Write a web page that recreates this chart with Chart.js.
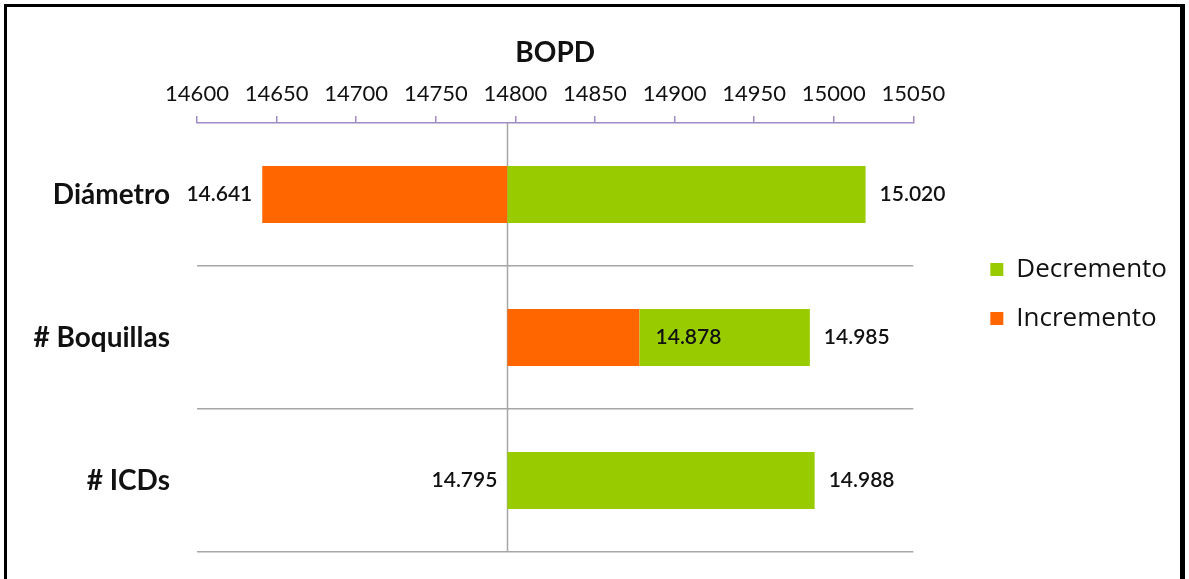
<!DOCTYPE html>
<html>
<head>
<meta charset="utf-8">
<script src="https://cdn.jsdelivr.net/npm/chart.js@4.4.0/dist/chart.umd.min.js"></script>
<style>
html,body{margin:0;padding:0;background:#fff;}
#wrap{position:relative;width:1189px;height:579px;overflow:hidden;background:#fff;}
#frame{position:absolute;left:4px;top:4px;width:1181px;height:620px;border:3px solid #000;border-right-width:5px;box-sizing:border-box;pointer-events:none;}
#c{position:absolute;left:0;top:0;}
</style>
</head>
<body>
<div id="wrap">
<canvas id="c" width="1189" height="579"></canvas>
<div id="frame"></div>
</div>
<script>
// ---- data ----
const categories = ['Diámetro', '# Boquillas', '# ICDs'];
const baseValue = 14795;
const incrementoValues = [14641, 14878, 14795];
const decrementoValues = [15020, 14985, 14988];
const xTickValues = [14600, 14650, 14700, 14750, 14800, 14850, 14900, 14950, 15000, 15050];
const axisTitle = 'BOPD';
const seriesNames = ['Decremento', 'Incremento'];

// ---- derived floating bars ----
const incrementoBars = incrementoValues.map(v => [Math.min(v, baseValue), Math.max(v, baseValue)]);
const decrementoBars = decrementoValues.map((v, i) => [Math.max(baseValue, incrementoValues[i]), v]);

const fmt = v => String(v).replace(/\B(?=(\d{3})+$)/g, '.');

const FONT = 'Lato, "Open Sans", sans-serif';

const baseLinePlugin = {
  id: 'baseLine',
  beforeDatasetsDraw(chart) {
    const {ctx, chartArea, scales} = chart;
    const x = Math.round(scales.x.getPixelForValue(baseValue)) + 0.5;
    ctx.save();
    ctx.strokeStyle = '#A6A6A6';
    ctx.lineWidth = 1.5;
    ctx.beginPath();
    ctx.moveTo(x, chartArea.top);
    ctx.lineTo(x, chartArea.bottom);
    ctx.stroke();
    ctx.restore();
  }
};

const labelPlugin = {
  id: 'barLabels',
  afterDatasetsDraw(chart) {
    const {ctx, scales} = chart;
    ctx.save();
    ctx.fillStyle = '#111';
    ctx.font = '600 21px ' + FONT;
    ctx.textBaseline = 'middle';
    categories.forEach((c, i) => {
      const y = scales.y.getPixelForValue(i);
      const inc = incrementoValues[i];
      const dec = decrementoValues[i];
      if (inc <= baseValue) {
        ctx.textAlign = 'right';
        ctx.fillText(fmt(inc), scales.x.getPixelForValue(inc) - 10, y);
      } else {
        ctx.textAlign = 'left';
        ctx.fillText(fmt(inc), scales.x.getPixelForValue(inc) + 16, y);
      }
      ctx.textAlign = 'left';
      ctx.fillText(fmt(dec), scales.x.getPixelForValue(dec) + 14, y);
    });
    ctx.restore();
  }
};

new Chart(document.getElementById('c'), {
  type: 'bar',
  data: {
    labels: categories,
    datasets: [
      {label: seriesNames[0], data: decrementoBars, backgroundColor: '#99CC00', grouped: false,
       categoryPercentage: 1, barPercentage: 0.4, borderSkipped: false},
      {label: seriesNames[1], data: incrementoBars, backgroundColor: '#FF6600', grouped: false,
       categoryPercentage: 1, barPercentage: 0.4, borderSkipped: false}
    ]
  },
  options: {
    indexAxis: 'y',
    responsive: false,
    animation: false,
    layout: {padding: {top: 36, left: 0, right: 12, bottom: 27}},
    plugins: {
      legend: {
        position: 'right',
        maxWidth: 400,
        labels: {boxWidth: 13, boxHeight: 13, padding: 23, color: '#111',
                 font: {family: '"Open Sans", sans-serif', size: 26}}
      },
      tooltip: {enabled: false}
    },
    scales: {
      x: {
        type: 'linear',
        position: 'top',
        min: 14600, max: 15050,
        afterBuildTicks(s) { s.ticks = xTickValues.map(v => ({value: v})); },
        afterFit(s) { s.height = 87; },
        ticks: {color: '#111', font: {family: FONT, size: 22}, padding: 9, callback: v => String(v), maxRotation: 0, autoSkip: false},
        grid: {drawOnChartArea: false, color: '#A08CC8', tickLength: 7, lineWidth: 1.5},
        border: {color: '#A08CC8', width: 1.5},
        title: {display: true, text: axisTitle, color: '#111', font: {family: FONT, size: 28, weight: 'bold'}, padding: {top: 0, bottom: 0}}
      },
      y: {
        type: 'category',
        afterFit(s) { s.width = 197; s.paddingTop = 0; s.paddingBottom = 0; },
        ticks: {color: '#111', font: {family: FONT, size: 28, weight: 'bold'}, padding: 27},
        grid: {offset: true, drawTicks: false, lineWidth: 1.5,
               color: ctx => ctx.index === 0 ? 'rgba(0,0,0,0)' : '#A6A6A6'},
        border: {display: false}
      },
      spacer: {
        type: 'linear',
        position: 'right',
        display: true,
        afterFit(s) { s.width = 54; s.paddingTop = 0; s.paddingBottom = 0; },
        ticks: {display: false},
        grid: {display: false},
        border: {display: false}
      }
    }
  },
  plugins: [baseLinePlugin, labelPlugin]
});
</script>
</body>
</html>
